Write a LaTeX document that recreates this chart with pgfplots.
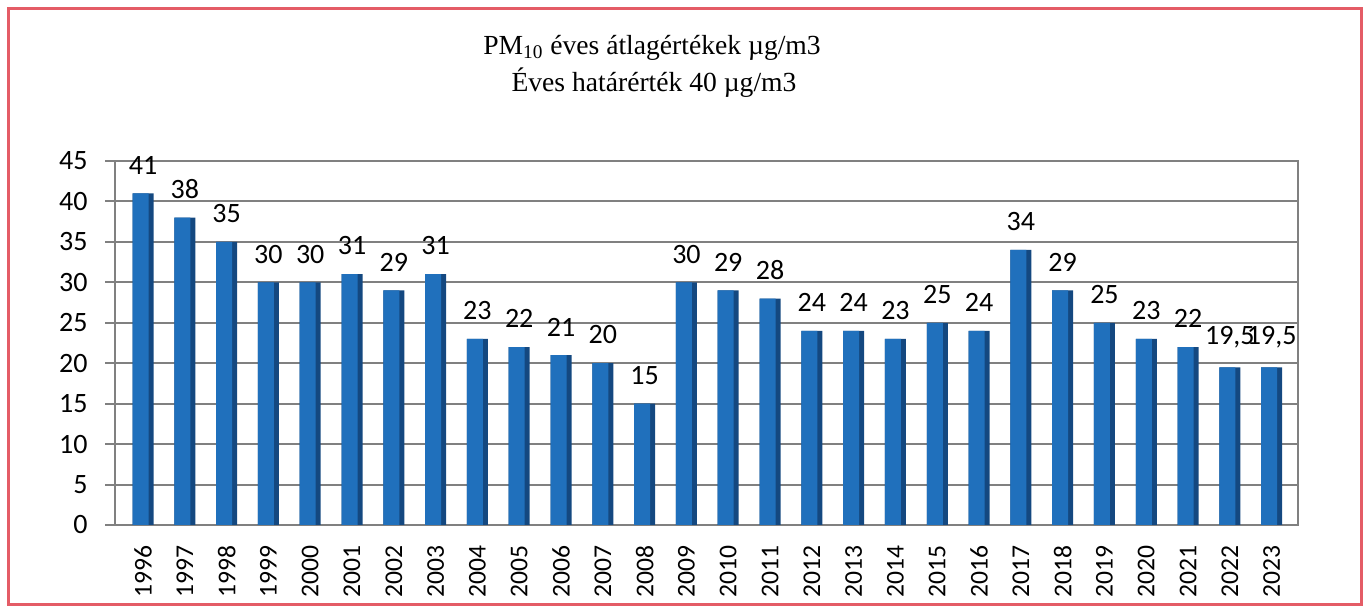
\documentclass[border=0pt]{standalone}
\usepackage{pgfplots}
\pgfplotsset{compat=1.18}
\usepackage{pgfplotstable}
\usepackage{fontspec}
\setmainfont{Carlito}
\newfontfamily\titlefont{Liberation Serif}
\definecolor{barfront}{RGB}{32,112,188}
\definecolor{barside}{RGB}{20,72,128}
\definecolor{gridgray}{RGB}{128,128,128}
\definecolor{framered}{RGB}{228,92,102}

\pgfplotstableread{
x y lab
0 41 41
1 38 38
2 35 35
3 30 30
4 30 30
5 31 31
6 29 29
7 31 31
8 23 23
9 22 22
10 21 21
11 20 20
12 15 15
13 30 30
14 29 29
15 28 28
16 24 24
17 24 24
18 23 23
19 25 25
20 24 24
21 34 34
22 29 29
23 25 25
24 23 23
25 22 22
26 19.5 19,5
27 19.5 19,5
}\datatable

\begin{document}
\begin{tikzpicture}
\useasboundingbox (0,0) rectangle (682.5pt,304.5pt);
\draw[framered, line width=1.5pt] (4pt,2pt) rectangle (680.5pt,300pt);
\node[font=\titlefont\fontsize{13.8}{16}\selectfont, inner sep=0pt] at (326pt,280.5pt) {PM\textsubscript{10} éves átlagértékek µg/m3};
\node[font=\titlefont\fontsize{13.8}{16}\selectfont, inner sep=0pt] at (327pt,263pt) {Éves határérték 40 µg/m3};
\begin{axis}[
  at={(57.5pt,42pt)}, anchor=south west,
  scale only axis, width=591.5pt, height=182pt,
  xmin=-0.67, xmax=27.63, ymin=0, ymax=45,
  ytick={0,5,...,45},
  xtick={0,...,27},
  xticklabels={1996,1997,1998,1999,2000,2001,2002,2003,2004,2005,2006,2007,2008,2009,2010,2011,2012,2013,2014,2015,2016,2017,2018,2019,2020,2021,2022,2023},
  minor xtick={-0.5,0.5,...,27.5},
  ymajorgrids,
  grid style={gridgray, line width=1pt},
  axis line style={gridgray, line width=1pt},
  tick align=outside, tick pos=left,
  major tick length=5pt, minor tick length=5pt,
  xtick style={draw=none},
  ytick style={gridgray, line width=1pt},
  minor tick style={gridgray, line width=1pt},
  /pgf/number format/assume math mode=true,
  every tick label/.append style={font=\fontsize{14}{16}\selectfont, text=black},
  yticklabel style={anchor=east, inner sep=0pt, xshift=-8.5pt},
  xticklabel style={rotate=90, anchor=east, inner sep=0pt, font=\fontsize{12.8}{15}\selectfont},
  xticklabel shift=5pt,
  clip=false,
]
\addplot[ybar, bar width=10.5pt, bar shift=0pt, fill=barside, draw=none] table[x=x, y=y]{\datatable};
\addplot[ybar, bar width=8pt, bar shift=-1.25pt, fill=barfront, draw=none,
  point meta=explicit symbolic,
  nodes near coords={\pgfplotspointmeta},
  every node near coord/.append style={font=\fontsize{14}{16}\selectfont, text=black, yshift=6pt, xshift=0pt}
] table[x=x, y=y, meta=lab]{\datatable};
\end{axis}
\end{tikzpicture}
\end{document}
